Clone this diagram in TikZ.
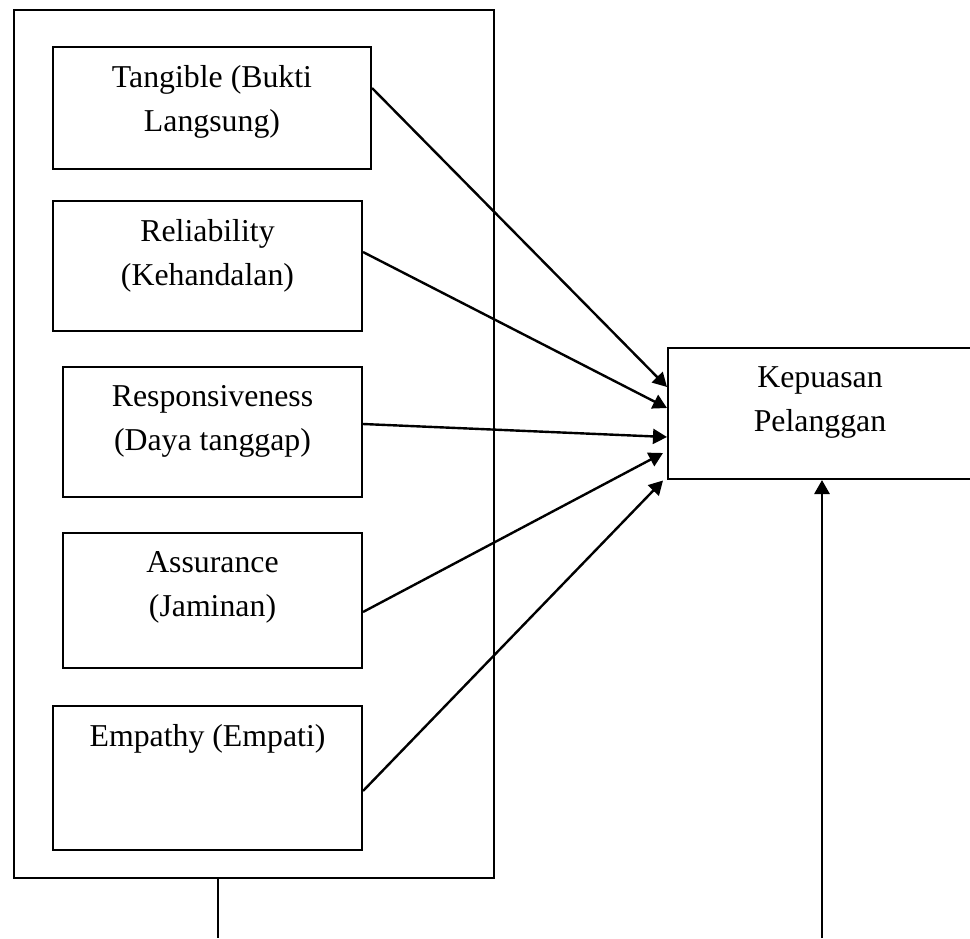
\documentclass[tikz,border=0pt]{standalone}
\usepackage{fontspec}
\setmainfont{Liberation Serif}
\usetikzlibrary{arrows.meta,calc}

\begin{document}
\begin{tikzpicture}[x=0.5pt,y=-0.5pt,
        kotak/.style={draw, line width=1pt, inner sep=0pt},
        teks/.style={anchor=north, align=center, inner sep=0pt, font=\fontsize{15.9}{22}\selectfont},
        panah/.style={line width=1.2pt, -{Triangle[length=7pt,width=7.5pt]}}]
    \useasboundingbox (0,0) rectangle (970,938);
    \clip (0,0) rectangle (970,938);
    % kotak luar
    \node[kotak, minimum width=240pt, minimum height=434pt] (dimensi) at (254,444) {};
    % lima dimensi dan kepuasan
    \foreach \nama/\cx/\cy/\w/\h/\isi in {
        tangible/212/108/159/61/{Tangible (Bukti\\Langsung)},
        reliability/207.5/266/154.5/65/{Reliability\\(Kehandalan)},
        responsiveness/212.5/432/149.5/65/{Responsiveness\\(Daya tanggap)},
        assurance/212.5/600.5/149.5/67.5/{Assurance\\(Jaminan)},
        empathy/207.5/778/154.5/72/{Empathy (Empati)},
        kepuasan/820/413.5/152/65.5/{Kepuasan\\Pelanggan}}{
        \node[kotak, minimum width=\w pt, minimum height=\h pt] (\nama) at (\cx,\cy) {};
        \node[teks] (\nama-teks) at ($(\nama.north)+(0,19)$) {\isi};
    }
    % panah ke kepuasan
    \foreach \asal/\da/\dx/\db in {tangible/-20/0/-26.5, reliability/-14/0/-5.5,
        responsiveness/-8/0/23.5, assurance/11.5/-4/39.5, empathy/13/-4/67}{
        \draw[panah] ($(\asal.east)+(0,\da)$) -- ($(kepuasan.west)+(\dx,\db)$);
    }
    \coordinate (ujungkiri) at (218,938);
    \coordinate (ujungkanan) at (822,938);
    \draw[line width=0.75pt] (dimensi.south -| ujungkiri) -- (ujungkiri);
    \draw[panah, line width=1.4pt] (ujungkanan) -- (ujungkanan |- kepuasan.south);
\end{tikzpicture}
\end{document}
